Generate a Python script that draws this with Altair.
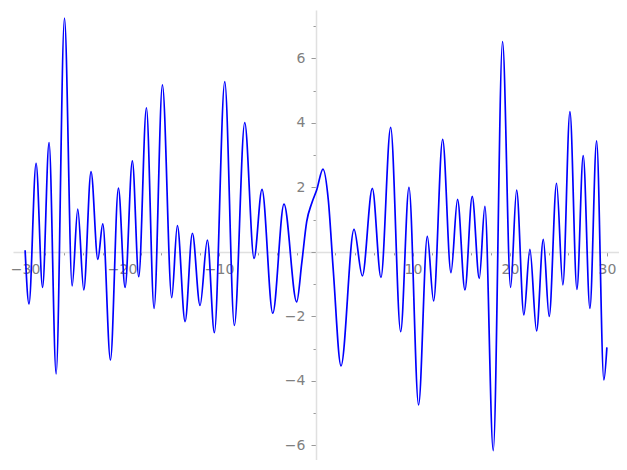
import altair as alt
import pandas as pd

# Curve points (local extrema plus a few shape points)
xs = [-30.0, -29.6, -28.87, -28.2, -27.53, -26.8, -25.94, -25.15, -24.57, -23.95,
      -23.2, -22.5, -21.99, -21.2, -20.38, -19.69, -18.94, -18.28, -17.49, -16.7,
      -15.84, -14.88, -14.3, -13.5, -12.75, -11.96, -11.2, -10.48, -9.41, -8.42,
      -7.35, -6.39, -5.57, -4.46, -3.3, -1.99, -1.47, -0.96, -0.44, 0.07,
      0.72, 1.27, 1.78, 2.58, 3.92, 4.78, 5.81, 6.7, 7.7, 8.73,
      9.59, 10.58, 11.48, 12.13, 13.06, 13.92, 14.6, 15.36, 16.11, 16.84,
      17.42, 18.28, 19.24, 20.07, 20.69, 21.44, 22.06, 22.75, 23.44, 24.05,
      24.81, 25.46, 26.19, 26.91, 27.56, 28.25, 28.94, 29.69, 30.0]
ys = [0.05, -1.61, 2.75, -1.1, 3.39, -3.78, 7.25, -1.05, 1.33, -1.18,
      2.49, -0.23, 0.87, -3.35, 1.98, -1.1, 2.82, -0.77, 4.47, -1.75,
      5.18, -1.42, 0.82, -2.16, 0.58, -1.66, 0.37, -2.5, 5.28, -2.28,
      4.01, -0.2, 1.94, -1.9, 1.48, -1.55, -0.35, 0.94, 1.51, 1.92,
      2.57, 1.61, -0.56, -3.53, 0.7, -0.74, 1.97, -0.79, 3.86, -2.47,
      2.0, -4.74, 0.48, -1.52, 3.49, -0.64, 1.63, -1.18, 1.72, -0.82,
      1.41, -6.16, 6.52, -1.1, 1.92, -1.95, 0.08, -2.45, 0.39, -2.0,
      2.13, -1.02, 4.35, -1.16, 2.99, -1.75, 3.44, -3.97, -2.96]

x_domain = [-31.25, 31.25]
y_domain = [-6.45, 7.5]
x_ticks = [v for v in range(-30, 31, 2)]
y_ticks = [v / 2 for v in range(-12, 16)]

W, H = 606, 450
# place axes through the origin
x_off = -(H - H * (y_domain[1] - 0) / (y_domain[1] - y_domain[0]))
y_off = -(W * (0 - x_domain[0]) / (x_domain[1] - x_domain[0]))

df = pd.DataFrame({"x": xs, "y": ys})

axis_common = dict(
    grid=False,
    domainColor="#e0e0e0",
    domainWidth=1.5,
    tickColor="#9a9a9a",
    tickWidth=1,
    labelColor="#808080",
    labelFont="DejaVu Sans",
    labelFontSize=14,
    title=None,
    format="d",
)

chart = alt.Chart(df).mark_line(
    color="#0000ff", strokeWidth=1.7, interpolate="monotone"
).encode(
    x=alt.X("x:Q", scale=alt.Scale(domain=x_domain, nice=False, zero=False),
            axis=alt.Axis(orient="bottom", offset=x_off, values=x_ticks,
                          tickSize={"condition": {"test": "datum.value % 10 === 0", "value": 4}, "value": 3},
                          labelExpr="(datum.value % 10 === 0 && datum.value !== 0) ? datum.label : ''",
                          labelPadding=7, labelFlush=False, labelOverlap=False,
                          **axis_common)),
    y=alt.Y("y:Q", scale=alt.Scale(domain=y_domain, nice=False, zero=False),
            axis=alt.Axis(orient="left", offset=y_off, values=y_ticks,
                          tickSize={"condition": {"test": "datum.value % 2 === 0", "value": 5}, "value": 3},
                          labelExpr="(datum.value % 2 === 0 && datum.value !== 0) ? datum.label : ''",
                          labelPadding=6, labelFlush=False, labelOverlap=False,
                          **axis_common)),
).properties(
    width=W, height=H,
    autosize=alt.AutoSizeParams(type="none"),
    padding={"left": 5, "top": 2, "right": 0, "bottom": 0},
).configure_view(stroke=None)

chart.save("out.html", embed_options={"renderer": "svg", "actions": False})
